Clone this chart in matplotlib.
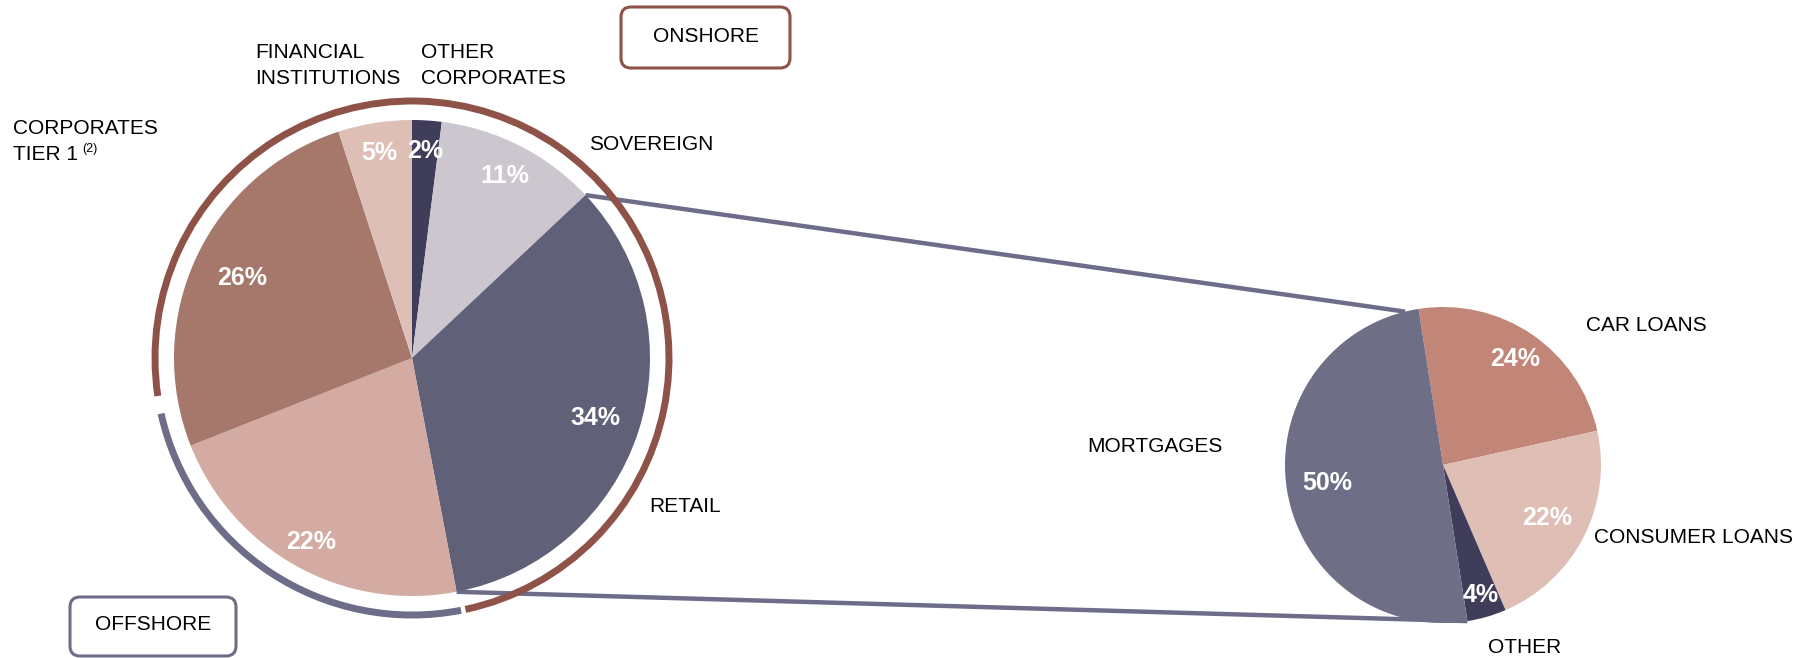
import matplotlib
matplotlib.use("Agg")
import matplotlib.pyplot as plt
from matplotlib.patches import Arc, FancyBboxPatch
import numpy as np

plt.rcParams['font.family'] = ['Liberation Sans', 'DejaVu Sans']

# ---------------- data ----------------
left_categories = ['OTHER\nCORPORATES', 'SOVEREIGN', 'RETAIL', None,
                   'CORPORATES\nTIER 1', 'FINANCIAL\nINSTITUTIONS']
left_values = [2, 11, 34, 22, 26, 5]
right_categories = ['CAR LOANS', 'CONSUMER LOANS', 'OTHER', 'MORTGAGES']
right_values = [24, 22, 4, 50]
region_labels = ['ONSHORE', 'OFFSHORE']
onshore_share = 75
offshore_share = 25

# ---------------- styles ----------------
left_colors = ['#3F3D5A', '#CCC7CF', '#606078', '#D3ABA2', '#A6776B', '#DEBFB6']
right_colors = ['#C18677', '#DEBEB5', '#3F3D5A', '#6E6E86']
ONSHORE_C = '#8E5248'
OFFSHORE_C = '#6E6D89'
W, H = 1810, 658

fig = plt.figure(figsize=(W / 100, H / 100), dpi=100)
ax = fig.add_axes([0, 0, 1, 1])


def Y(y):
    return H - y


LC, LR = (412, Y(358)), 238
RC, RR = (1443, Y(465)), 158

lwedges, _ = ax.pie(left_values, colors=left_colors, startangle=90,
                    counterclock=False, center=LC, radius=LR,
                    wedgeprops=dict(linewidth=0))
rwedges, _ = ax.pie(right_values, colors=right_colors, startangle=98.9,
                    counterclock=False, center=RC, radius=RR,
                    wedgeprops=dict(linewidth=0))

# percentage labels
left_pct_dist = [0.87, 0.86, 0.81, 0.88, 0.79, 0.87]
right_pct_dist = [0.81, 0.74, 0.855, 0.74]
for wedges, vals, dists, c, r in [(lwedges, left_values, left_pct_dist, LC, LR),
                                  (rwedges, right_values, right_pct_dist, RC, RR)]:
    for w, v, d in zip(wedges, vals, dists):
        m = np.deg2rad((w.theta1 + w.theta2) / 2)
        ax.text(c[0] + d * r * np.cos(m), c[1] + d * r * np.sin(m), f"{v}%",
                ha='center', va='center', color='white', fontsize=18,
                fontweight='bold', zorder=5)

# connector lines (retail wedge -> retail breakdown)
retail = lwedges[2]
mort = rwedges[3]
for a_left, a_right in [(retail.theta2, mort.theta1 + 360 + 5),
                        (retail.theta1, mort.theta2)]:
    p0 = (LC[0] + LR * np.cos(np.deg2rad(a_left)), LC[1] + LR * np.sin(np.deg2rad(a_left)))
    p1 = (RC[0] + RR * np.cos(np.deg2rad(a_right)), RC[1] + RR * np.sin(np.deg2rad(a_right)))
    ax.plot([p0[0], p1[0]], [p0[1], p1[1]], color=OFFSHORE_C, lw=3.2,
            solid_capstyle='butt', zorder=0.5)

# onshore / offshore arcs
b = retail.theta1
ring_r = 257
off_t2 = b + 0.2
off_t1 = off_t2 - offshore_share * 3.6 + 1.5
on_t1 = b + 1.2
on_t2 = on_t1 + onshore_share * 3.6 - 3.5
ax.add_patch(Arc(LC, 2 * ring_r, 2 * ring_r, theta1=off_t1, theta2=off_t2,
                 color=OFFSHORE_C, lw=5, zorder=2))
ax.add_patch(Arc(LC, 2 * ring_r, 2 * ring_r, theta1=on_t1, theta2=on_t2,
                 color=ONSHORE_C, lw=5, zorder=2))

# region boxes
for lab, (x0, y0, x1, y1), col in [(region_labels[0], (621, 7, 790, 68), ONSHORE_C),
                                   (region_labels[1], (70, 597, 236, 656), OFFSHORE_C)]:
    ax.add_patch(FancyBboxPatch((x0, Y(y1)), x1 - x0, y1 - y0,
                                boxstyle="round,pad=0,rounding_size=10",
                                fc='white', ec=col, lw=2.2, zorder=3))
    ax.text((x0 + x1) / 2, Y((y0 + y1) / 2 - 1.5), lab, ha='center', va='center',
            fontsize=15, color='black', zorder=4)

# category labels (anchor = baseline of the first line; lines drawn one by one)
LINE_GAP = 26
left_label_pos = [(421, 58), (589, 150), (649, 512), None, (13, 134), (255, 58)]
right_label_pos = [(1586, 331), (1594, 543), (1488, 653), (1087, 452)]
for cats, poss in [(left_categories, left_label_pos), (right_categories, right_label_pos)]:
    for cat, pos in zip(cats, poss):
        if cat is None or pos is None:
            continue
        for i, line in enumerate(cat.split('\n')):
            ax.text(pos[0], Y(pos[1] + i * LINE_GAP), line, ha='left',
                    va='baseline', fontsize=15, color='black', zorder=4)
# footnote marker after "TIER 1"
ax.text(82, Y(152), '(2)', ha='left', va='baseline', fontsize=9, color='black')

ax.set_xlim(0, W)
ax.set_ylim(0, H)
ax.set_aspect('auto')
ax.axis('off')
fig.savefig('out.png', dpi=100)
